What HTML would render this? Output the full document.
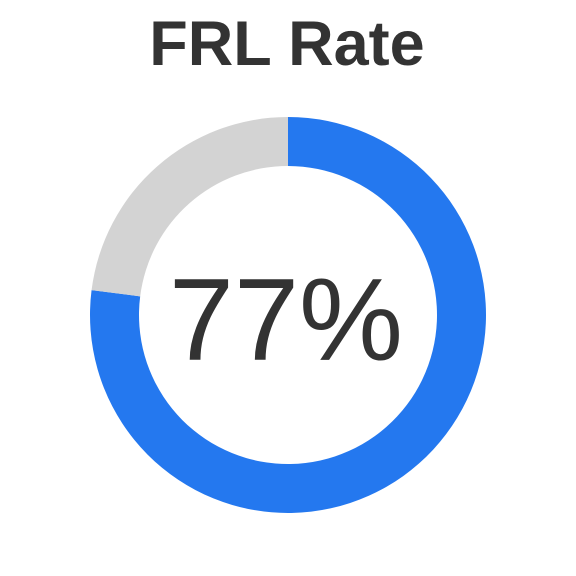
<!DOCTYPE html>
<html><head><meta charset="utf-8"><style>
html,body{margin:0;padding:0;background:#fff;}
svg{display:block;}
</style></head><body>
<svg width="576" height="576" viewBox="0 0 576 576">
<text x="287" y="65" text-anchor="middle" font-family="Liberation Sans, sans-serif" font-weight="bold" font-size="63" fill="#333">FRL Rate</text>
<g id="ring"></g>
<text id="center-label" x="286" y="360" text-anchor="middle" font-family="Liberation Sans, sans-serif" font-size="117" fill="#333"></text>
</svg>
<script>
const categories = ["FRL", "Non-FRL"];
const values = [77, 23];
const colors = ["#2478EF", "#D3D3D3"];
const cx = 288, cy = 315, rOuter = 198, rInner = 149;
const g = document.getElementById('ring');
const total = values.reduce((a,b)=>a+b,0);
function pt(r, frac){ const a = frac*2*Math.PI - Math.PI/2; return [cx + r*Math.cos(a), cy + r*Math.sin(a)]; }
let acc = 0;
values.forEach((v,i)=>{
  const f0 = acc/total, f1 = (acc+v)/total; acc += v;
  const large = (f1-f0) > 0.5 ? 1 : 0;
  const [x0,y0]=pt(rOuter,f0),[x1,y1]=pt(rOuter,f1),[x2,y2]=pt(rInner,f1),[x3,y3]=pt(rInner,f0);
  const p = document.createElementNS('http://www.w3.org/2000/svg','path');
  p.setAttribute('d',`M${x0},${y0} A${rOuter},${rOuter} 0 ${large} 1 ${x1},${y1} L${x2},${y2} A${rInner},${rInner} 0 ${large} 0 ${x3},${y3} Z`);
  p.setAttribute('fill',colors[i]);
  
  
  g.appendChild(p);
});
document.getElementById('center-label').textContent = values[0] + '%';
</script>
</body></html>
